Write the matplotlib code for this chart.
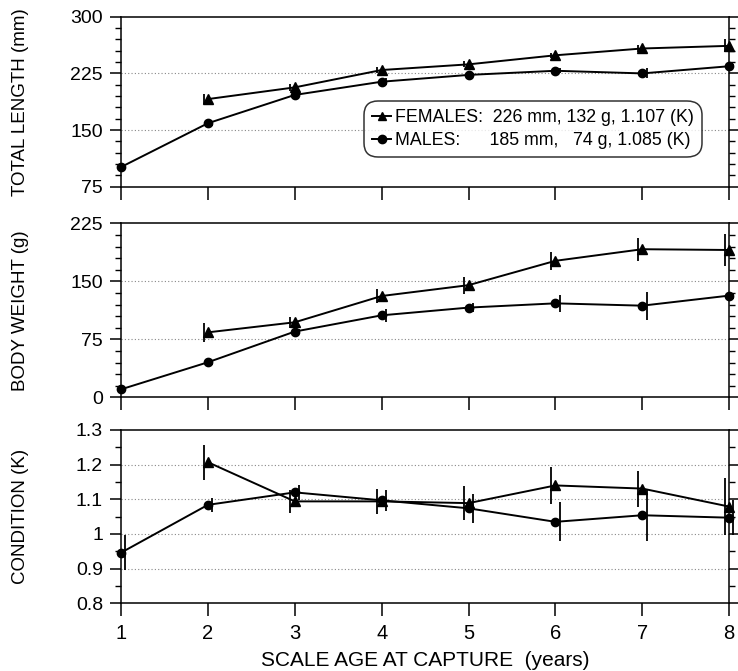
import matplotlib
matplotlib.use("Agg")
import matplotlib.pyplot as plt
from matplotlib.ticker import MultipleLocator
import numpy as np

plt.rcParams['font.family'] = ['Liberation Sans', 'DejaVu Sans']

ages = [1, 2, 3, 4, 5, 6, 7, 8]
female_ages = [2, 3, 4, 5, 6, 7, 8]

# Total length (mm)
len_f = [191, 206.5, 229.5, 237, 249, 258, 261.5]
len_f_err = [7, 5, 4, 4, 3, 4, 8.5]
len_m = [101, 159, 196.5, 214, 223, 228.5, 225, 234.5]
len_m_err = [2, 3, 3, 5, 3, 3, 6.5, 3]

# Body weight (g)
wt_f = [84, 97, 131, 145, 176.5, 191.5, 190.5]
wt_f_err = [12, 7, 8.5, 11, 12, 15, 21]
wt_m = [10.3, 45.3, 85, 106, 116, 121.5, 118.5, 131.5]
wt_m_err = [2, 3, 3, 8, 5.5, 11, 18, 4]

# Condition (K)
k_f = [1.207, 1.094, 1.094, 1.089, 1.14, 1.131, 1.079]
k_f_err = [0.051, 0.034, 0.035, 0.05, 0.054, 0.052, 0.082]
k_m = [0.946, 1.084, 1.12, 1.097, 1.074, 1.035, 1.054, 1.047]
k_m_err = [0.05, 0.02, 0.022, 0.03, 0.042, 0.056, 0.075, 0.05]

legend_f = "FEMALES:  226 mm, 132 g, 1.107 (K)"
legend_m = "MALES:      185 mm,   74 g, 1.085 (K)"

ylabels = ["TOTAL LENGTH (mm)", "BODY WEIGHT (g)", "CONDITION (K)"]
xlabel = "SCALE AGE AT CAPTURE  (years)"

fig = plt.figure(figsize=(7.38, 6.71), dpi=100)
L, W = 0.164, 0.824
ax1 = fig.add_axes([L, 0.7218, W, 0.2532])
ax2 = fig.add_axes([L, 0.4079, W, 0.2593])
ax3 = fig.add_axes([L, 0.1009, W, 0.2583])

off = 0.05
panels = [
    (ax1, len_f, len_f_err, len_m, len_m_err, (75, 300), [75, 150, 225, 300], 15, ['75', '150', '225', '300']),
    (ax2, wt_f, wt_f_err, wt_m, wt_m_err, (0, 225), [0, 75, 150, 225], 15, ['0', '75', '150', '225']),
    (ax3, k_f, k_f_err, k_m, k_m_err, (0.8, 1.3), [0.8, 0.9, 1.0, 1.1, 1.2, 1.3], 0.05, ['0.8', '0.9', '1', '1.1', '1.2', '1.3']),
]

for i, (ax, yf, ef, ym, em, ylim, yt, minor, ytl) in enumerate(panels):
    xf = np.array(female_ages, dtype=float)
    xm = np.array(ages, dtype=float)
    ax.errorbar(xf - off, yf, yerr=ef, fmt='none', ecolor='black', elinewidth=1.3, capsize=0, clip_on=False, zorder=3)
    ax.errorbar(xm + off, ym, yerr=em, fmt='none', ecolor='black', elinewidth=1.3, capsize=0, clip_on=False, zorder=3)
    lf, = ax.plot(xf, yf, '-^', color='black', lw=1.4, ms=7.5, clip_on=False, zorder=4)
    lm, = ax.plot(xm, ym, '-o', color='black', lw=1.4, ms=6, clip_on=False, zorder=4)
    ax.set_xlim(1, 8)
    ax.set_ylim(*ylim)
    ax.set_yticks(yt)
    ax.set_yticklabels(ytl)
    ax.yaxis.set_minor_locator(MultipleLocator(minor))
    ax.set_xticks(ages)
    for y in yt[1:-1]:
        ax.axhline(y, color='#888888', lw=0.8, ls=(0, (1, 2)), zorder=1)
    ax.tick_params(axis='y', which='major', direction='out', length=8, width=1.1, left=True, right=True, labelsize=14, pad=5)
    ax.tick_params(axis='y', which='minor', direction='out', length=4, width=1.0, left=True, right=True)
    ax.tick_params(axis='x', which='major', direction='out', length=9, width=1.1, labelsize=14.5, pad=6)
    for s in ax.spines.values():
        s.set_linewidth(1.1)
    ax.set_ylabel(ylabels[i], fontsize=13.5)
    if i < 2:
        ax.tick_params(axis='x', labelbottom=False)
    if i == 0:
        leg = ax.legend([lf, lm], [legend_f, legend_m], loc='center',
                        bbox_to_anchor=(0.677, 0.34), fontsize=12.8, frameon=True,
                        fancybox=True, edgecolor='black', handlelength=1.1,
                        handletextpad=0.2, borderpad=0.3, labelspacing=0.35,
                        borderaxespad=0)
        leg.get_frame().set_linewidth(1.1)
        leg.get_frame().set_boxstyle('round', pad=0.15, rounding_size=0.8)
        for h in leg.legend_handles:
            h.set_markersize(6)

for ax in (ax1, ax2, ax3):
    ax.yaxis.set_label_coords(-0.152, 0.5)

ax3.set_xlabel(xlabel, fontsize=15, labelpad=6)

fig.savefig("out.png", dpi=100)
